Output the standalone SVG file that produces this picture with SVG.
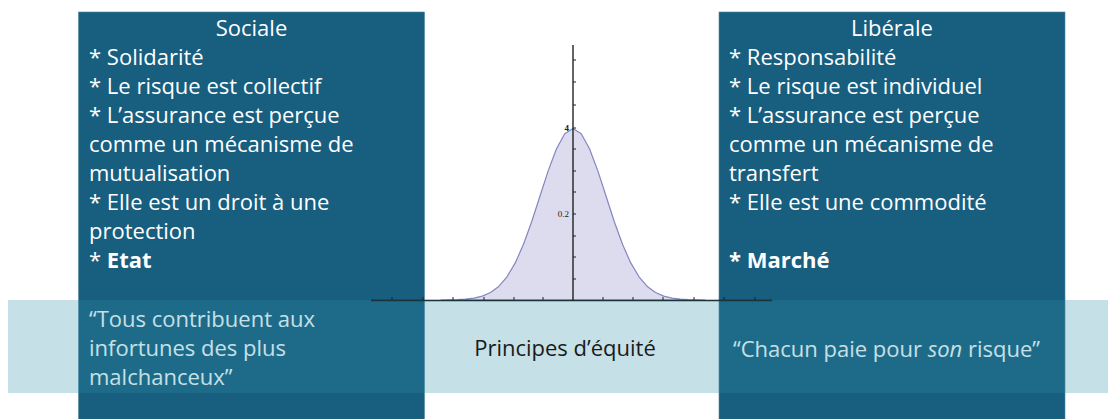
<svg xmlns="http://www.w3.org/2000/svg" width="1108" height="419" viewBox="0 0 1108 419">
<style>
.box{fill:#175e7f;stroke:#4d86a0;stroke-width:0.6}
.t{font-family:"Open Sans","Liberation Sans",sans-serif;font-size:22px;fill:#ffffff}
.c{text-anchor:middle}
.b{font-weight:bold}
.ax{stroke:#111;stroke-width:1.3;fill:none}
.tk{stroke:#222;stroke-width:1;fill:none}
.lbl{font-family:"Liberation Serif",serif;font-size:9px;fill:#222}
</style>
<rect width="1108" height="419" fill="#ffffff"/>
<g id="sociale">
<rect class="box" x="78.5" y="12" width="346" height="410"/>
<text class="t c" x="251.5" y="36">Sociale</text>
<text class="t" x="89" y="65">* Solidarité</text>
<text class="t" x="89" y="94">* Le risque est collectif</text>
<text class="t" x="89" y="123">* L’assurance est perçue</text>
<text class="t" x="89" y="152">comme un mécanisme de</text>
<text class="t" x="89" y="181">mutualisation</text>
<text class="t" x="89" y="210">* Elle est un droit à une</text>
<text class="t" x="89" y="239">protection</text>
<text class="t" x="89" y="268">* <tspan class="b">Etat</tspan></text>
<text class="t" x="89" y="327">“Tous contribuent aux</text>
<text class="t" x="89" y="356">infortunes des plus</text>
<text class="t" x="89" y="385">malchanceux”</text>
</g>
<g id="liberale">
<rect class="box" x="719" y="12" width="346" height="410"/>
<text class="t c" x="892" y="36">Libérale</text>
<text class="t" x="729" y="65">* Responsabilité</text>
<text class="t" x="729" y="94">* Le risque est individuel</text>
<text class="t" x="729" y="123">* L’assurance est perçue</text>
<text class="t" x="729" y="152">comme un mécanisme de</text>
<text class="t" x="729" y="181">transfert</text>
<text class="t" x="729" y="210">* Elle est une commodité</text>
<text class="t b" x="729" y="268">* Marché</text>
<text class="t" x="733" y="357">“Chacun paie pour <tspan font-style="italic">son</tspan> risque”</text>
</g>
<g id="courbe">
<path d="M441,300 L457.5,299.6 L465.75,299.1 L474,298.1 L482.25,296.1 L490.5,292.5 L498.75,286.4 L507,276.8 L515.25,262.9 L523.5,244.3 L531.75,221.5 L540,196 L548.25,170.6 L556.5,148.7 L564.75,133.8 L573,128.5 L581.25,133.8 L589.5,148.7 L597.75,170.6 L606,196 L614.25,221.5 L622.5,244.3 L630.75,262.9 L639,276.8 L647.25,286.4 L655.5,292.5 L663.75,296.1 L672,298.1 L680.25,299.1 L688.5,299.6 L705,300 Z" fill="#dcdcee" stroke="#8585c2" stroke-width="1.2" stroke-linejoin="round"/>
<line class="ax" x1="371" y1="300.5" x2="772" y2="300.5"/>
<line class="ax" x1="573" y1="45" x2="573" y2="300.5"/>
<path class="tk" d="M392,300 v-3 M423,300 v-3 M453,300 v-3 M484,300 v-3 M514,300 v-3 M543,300 v-3 M603,300 v-3 M633,300 v-3 M663,300 v-3 M694,300 v-3 M724,300 v-3 M755,300 v-3"/>
<path class="tk" d="M573,60 h3 M573,82 h3 M573,105 h3 M573,128 h3 M573,149 h3 M573,171 h3 M573,192 h3 M573,214 h3 M573,236 h3 M573,257 h3 M573,279 h3"/>
<text class="lbl" x="569" y="131" text-anchor="end" font-weight="bold">4</text>
<text class="lbl" x="569" y="217" text-anchor="end">0.2</text>
</g>
<g id="bande">
<rect x="8" y="300" width="1100" height="93" fill="#3090a6" fill-opacity="0.28"/>
<text x="565" y="356" text-anchor="middle" style="font-family:'Open Sans','Liberation Sans',sans-serif;font-size:22px;fill:#1a1a1a">Principes d’équité</text>
</g>
</svg>
